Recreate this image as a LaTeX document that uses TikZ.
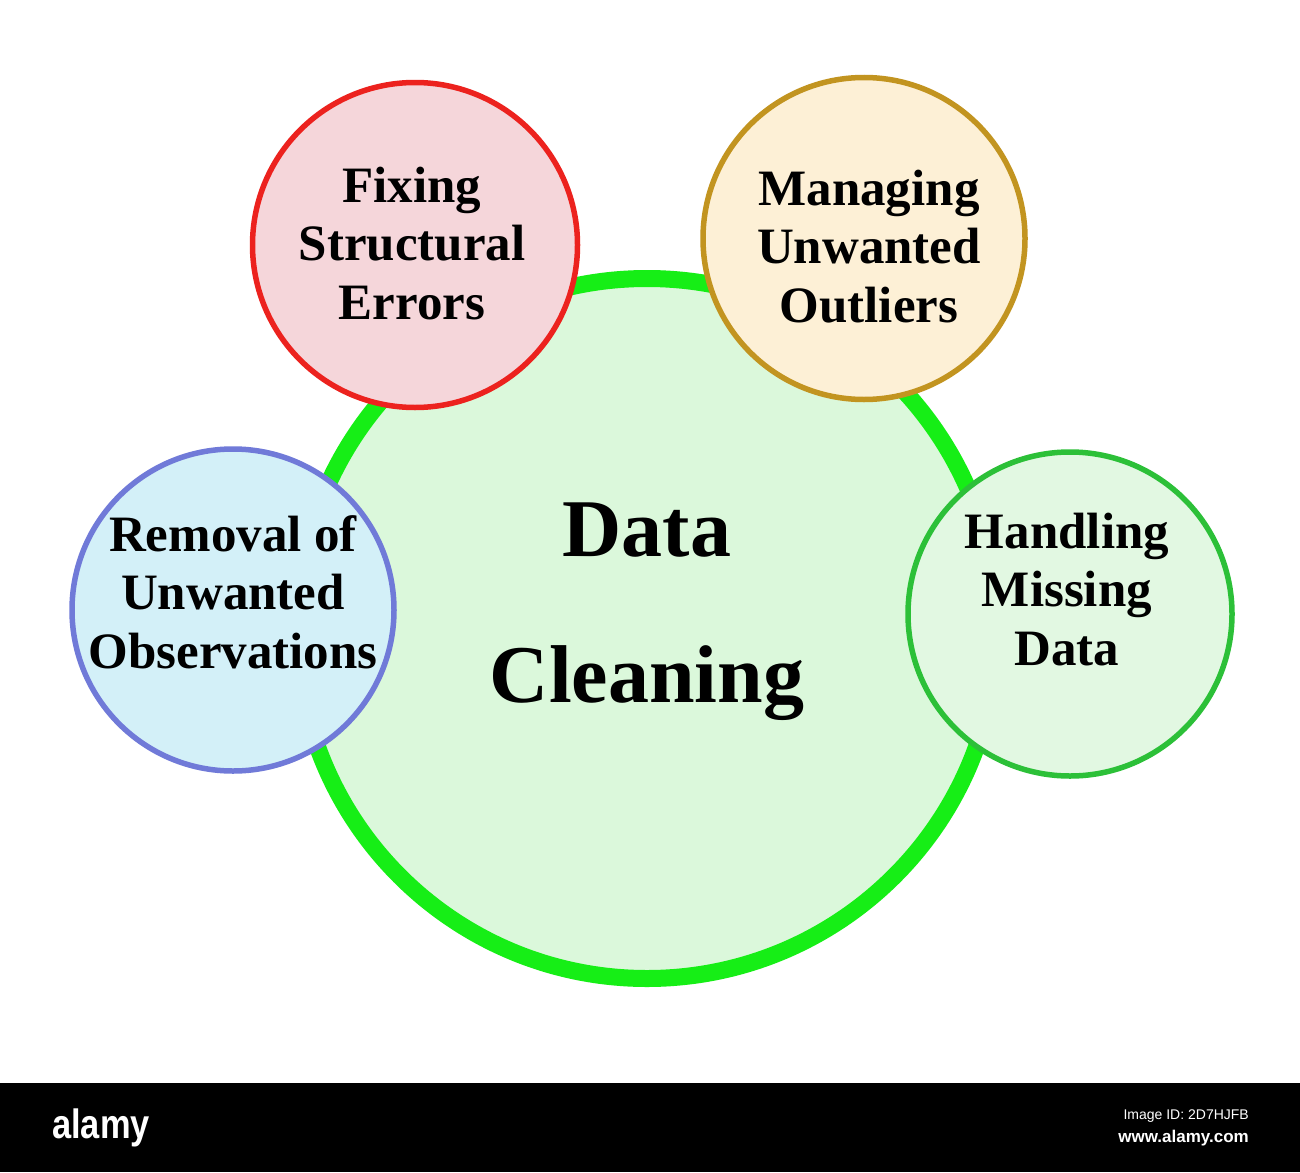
\documentclass[tikz,border=0pt]{standalone}
\usepackage{fontspec}
\setmainfont{Liberation Serif}
\newfontfamily\wmfont{Liberation Sans}
\definecolor{mainStroke}{RGB}{22,238,22}
\definecolor{mainFill}{RGB}{219,248,219}
\definecolor{redStroke}{RGB}{236,34,30}
\definecolor{redFill}{RGB}{245,214,218}
\definecolor{goldStroke}{RGB}{194,148,32}
\definecolor{goldFill}{RGB}{253,240,214}
\definecolor{blueStroke}{RGB}{112,122,216}
\definecolor{blueFill}{RGB}{211,240,248}
\definecolor{grnStroke}{RGB}{44,192,56}
\definecolor{grnFill}{RGB}{226,248,226}
\begin{document}
\begin{tikzpicture}[x=1pt,y=-1pt,
  bubble/.style={circle, inner sep=0pt, outer sep=0pt, line width=5.5pt},
  smalltext/.style={anchor=base, inner sep=0pt, font=\bfseries\fontsize{51}{58.5}\selectfont},
  bigtext/.style={anchor=base, inner sep=0pt, font=\bfseries\fontsize{82}{146}\selectfont},
  wm/.style={inner sep=0pt, text=white}]
\useasboundingbox (0,0) rectangle (1300,1172);
\fill[white] (0,0) rectangle (1300,1172);
% main circle
\node[circle, inner sep=0pt, minimum size=700pt, draw=mainStroke, fill=mainFill, line width=17pt] (main) at (647,628.5) {};
% satellites
\node[bubble, minimum size=325pt, draw=redStroke, fill=redFill] (fix) at (415,245) {};
\node[bubble, minimum size=322pt, draw=goldStroke, fill=goldFill] (man) at (864,238.5) {};
\node[bubble, minimum size=322pt, draw=blueStroke, fill=blueFill] (rem) at (233,610) {};
\node[bubble, minimum size=324pt, draw=grnStroke, fill=grnFill] (han) at (1070,614) {};
% texts
\node[bigtext] (mainT) at (647,556) {\begin{tabular}[t]{@{}c@{}}Data\\Cleaning\end{tabular}};
\node[smalltext] (fixT) at (412,202) {\begin{tabular}[t]{@{}c@{}}Fixing\\Structural\\Errors\end{tabular}};
\node[smalltext] (manT) at (869,205) {\begin{tabular}[t]{@{}c@{}}Managing\\Unwanted\\Outliers\end{tabular}};
\node[smalltext] (remT) at (233,551) {\begin{tabular}[t]{@{}c@{}}Removal of\\Unwanted\\Observations\end{tabular}};
\node[smalltext] (hanT) at (1067,548) {\begin{tabular}[t]{@{}c@{}}Handling\\Missing\\Data\end{tabular}};
% watermark bar
\fill[black] (0,1083) rectangle (1300,1172);
\node[wm, anchor=base west, xscale=0.84, font=\wmfont\bfseries\fontsize{41}{41}\selectfont] (logo) at (52,1138) {alamy};
\node[wm, anchor=base east, font=\wmfont\fontsize{14}{14}\selectfont] (imgid) at (1249,1119) {Image ID: 2D7HJFB};
\node[wm, anchor=base east, font=\wmfont\bfseries\fontsize{17}{17}\selectfont] (url) at (1249,1142) {www.alamy.com};
\end{tikzpicture}
\end{document}
